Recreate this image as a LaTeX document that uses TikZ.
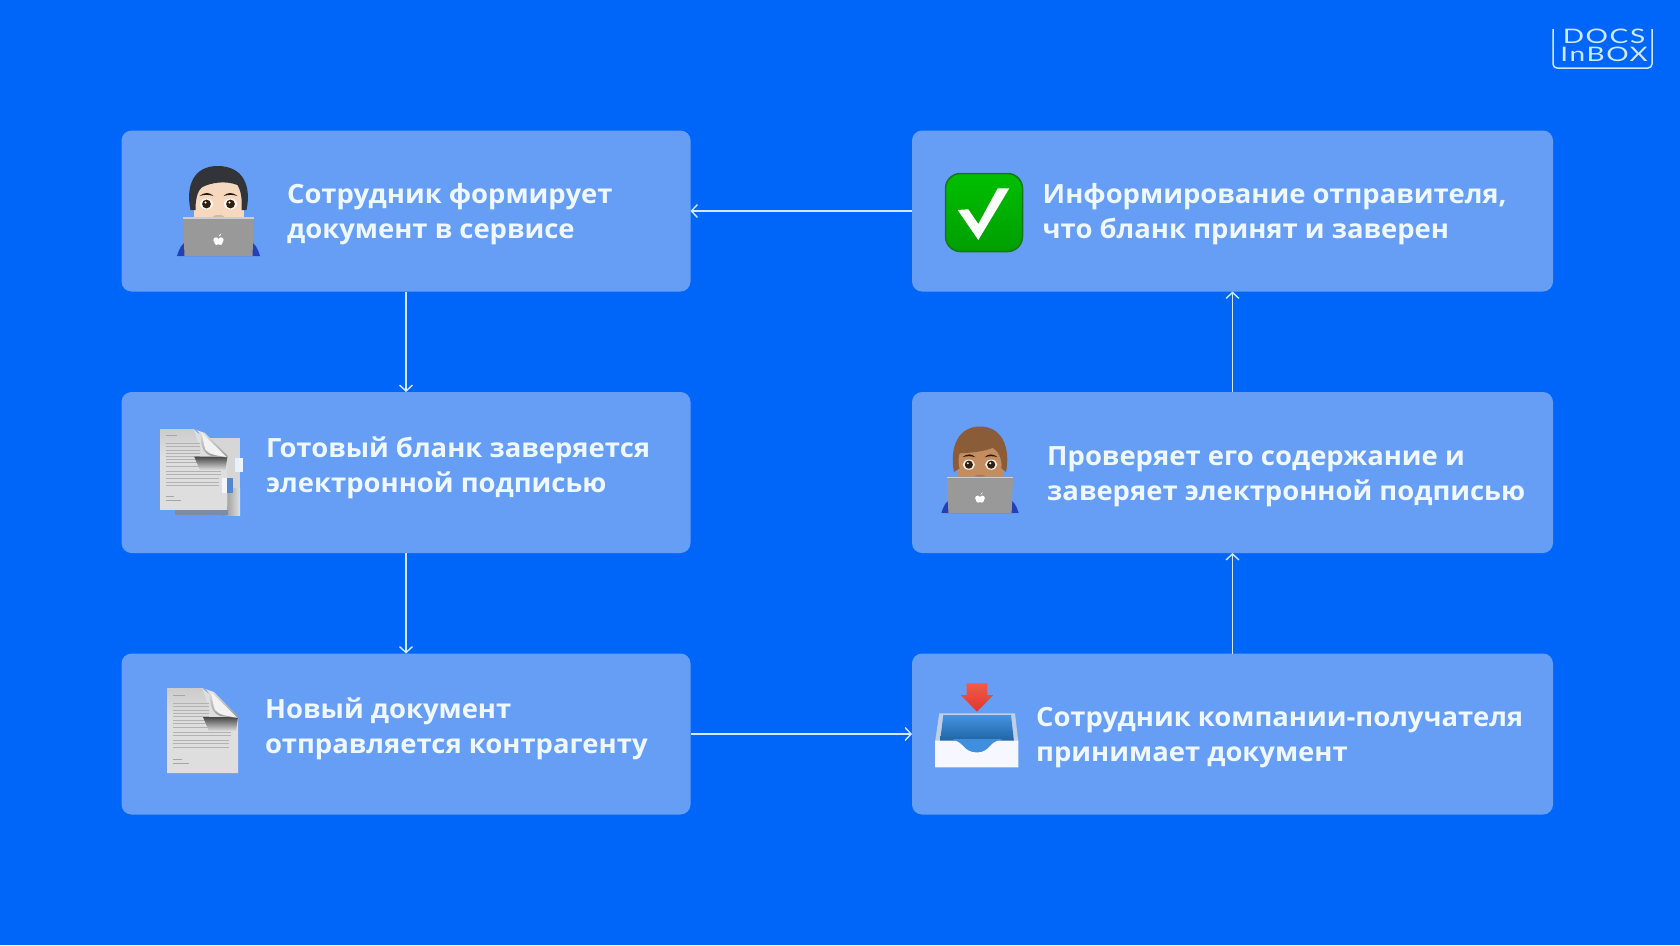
\documentclass[tikz,border=0pt]{standalone}
\usepackage{fontspec}
\usetikzlibrary{arrows.meta}
\setmainfont{Open Sans}
\newfontfamily\boxfont[FakeStretch=1.035]{Open Sans}
\newfontfamily\logofont[FakeStretch=1.4,LetterSpace=8]{Lato}

\definecolor{pagebg}{HTML}{0066FA}
\definecolor{boxbg}{HTML}{669EF6}
\definecolor{boxtext}{HTML}{F0F8FF}
\definecolor{linkline}{HTML}{CFE9FF}
\definecolor{skinA}{HTML}{F6D8BE}
\definecolor{hairA}{HTML}{33343A}
\definecolor{skinB}{HTML}{C48D60}
\definecolor{hairB}{HTML}{8A5C38}
\definecolor{shirt}{HTML}{2440B8}
\definecolor{traytop}{HTML}{4593E2}
\definecolor{traylow}{HTML}{1E629F}
\definecolor{trayrim}{HTML}{BFCFE4}
\definecolor{traytongue}{HTML}{3F8FDE}
\definecolor{redtop}{HTML}{F25A48}
\definecolor{redlow}{HTML}{D93A2E}
\definecolor{docshadow}{HTML}{7C8CA8}

\newcommand{\hairAshape}{(-28,-46) .. controls (-33,-70) and (-25,-90) .. (-1,-90) .. controls (25,-90) and (33,-70) .. (28,-46) -- (23,-46) .. controls (24,-58) and (22,-66) .. (19,-71) .. controls (6,-76) and (-8,-73) .. (-16,-69) .. controls (-22,-65) and (-23,-54) .. (-23,-46) -- cycle}
\newcommand{\hairBshape}{(-28,-44) .. controls (-33,-70) and (-24,-93) .. (0,-93) .. controls (24,-93) and (33,-70) .. (28,-44) -- (23,-48) .. controls (24,-58) and (20,-66) .. (14,-70) .. controls (0,-65) and (-12,-65) .. (-22,-64) .. controls (-24,-58) and (-23,-50) .. (-22,-48) -- cycle}

\tikzset{
	stepbox/.style={fill=boxbg, rounded corners=10pt, minimum height=161pt, outer sep=0pt},
	steptext/.style={anchor=west, align=left, inner sep=0pt, text=boxtext, font=\boxfont\bfseries\fontsize{26.5}{35}\selectfont},
	link/.style={draw=linkline, line width=1.4pt, -{Straight Barb[length=6pt,width=13pt]}},
	logotext/.style={inner sep=0pt, text=linkline, font=\logofont\fontsize{20}{20}\selectfont},
	pics/laptopguy/.style n args={3}{code={
		\fill[#1] (-26,-50) circle (2.5) (26,-50) circle (2.5);
		\fill[#1] (0,-60) ellipse (25 and 26);
		\fill[#1] (-25,-60) rectangle (25,-36);
		\fill[#2] #3;
		\fill[black!80!brown] (-19,-60) .. controls (-14,-64) and (-9,-64) .. (-5,-60) .. controls (-10,-61.5) and (-14,-61.5) .. (-19,-60);
		\fill[black!80!brown] (19,-60) .. controls (14,-64) and (9,-64) .. (5,-60) .. controls (10,-61.5) and (14,-61.5) .. (19,-60);
		\fill[white!85!#1] (-12,-52) ellipse (6.5 and 5.5) (12,-52) ellipse (6.5 and 5.5);
		\fill[black!75!brown] (-12,-52) circle (4.4) (12,-52) circle (4.4);
		\fill[white] (-13,-53.5) circle (1.1) (11,-53.5) circle (1.1);
		\fill[#1!85!black] (0,-39) ellipse (6 and 2);
		\fill[shirt] (-41.5,0) .. controls (-39,-8) and (-37,-13) .. (-30,-15) -- (30,-15) .. controls (37,-13) and (39,-8) .. (41.5,0) -- cycle;
		\fill[black!40] (-35.5,-39) -- (35.5,-39) -- (34,0) -- (-34,0) -- cycle;
		\fill[blue!10!black!20] (-35.5,-39) rectangle (35.5,-37.5);
		\fill[white] (-2.5,-16) circle (2.7) (2.5,-16) circle (2.7) (-1.8,-13.5) circle (2.4) (1.8,-13.5) circle (2.4);
		\fill[white] (0.3,-19.5) .. controls (0.5,-21) and (1.5,-22) .. (2.8,-22.5) .. controls (2.6,-21) and (1.8,-19.8) .. (0.3,-19.5);
	}},
	docpage/.pic={
		\fill[black!13] (0,0) -- (35,0) -- (71,30) -- (71,85) -- (0,85) -- cycle;
		\shade[top color=black!20, bottom color=black!13] (0,0) -- (35,0) -- (45,28) -- (0,28) -- cycle;
		\foreach \y in {15,18.4,...,42} {
			\draw[black!30, line width=.4pt] (6,\y) -- (42,\y);
		}
		\foreach \y in {44,47.5} {
			\draw[black!30, line width=.4pt] (6,\y) -- (64,\y);
		}
		\foreach \y in {52,55.5,...,62} {
			\draw[black!30, line width=.4pt] (6,\y) -- (62,\y);
		}
		\draw[black!35, line width=.4pt] (6,7) -- (18,7);
		\draw[black!35, line width=.4pt] (6,71) -- (15,71);
		\draw[black!35, line width=.4pt] (6,75) -- (22,75);
		\shade[top color=black!72, bottom color=black!13] (36,29) -- (71,29) -- (69,43) -- (42,43) -- cycle;
		\shade[top color=black!8, bottom color=black!40] (35,0) .. controls (41,1) and (43,6) .. (43,12) .. controls (44,20) and (47,26) .. (53,28) -- (71,30) -- (71,28) -- (47,4) -- cycle;
		\fill[black!5] (43,3) -- (70,29.5) .. controls (60,28) and (52,27) .. (48,22) .. controls (45,15) and (46,8) .. (43,3) -- cycle;
	},
}

\begin{document}
\begin{tikzpicture}[x=1pt, y=-1pt]
	\fill[pagebg] (0,0) rectangle (1680,945);
	\useasboundingbox (0,0) rectangle (1680,945);

	\node[stepbox, minimum width=569pt] (form) at (406,211) {};
	\node[stepbox, minimum width=569pt] (sign) at (406,472.5) {};
	\node[stepbox, minimum width=569pt] (send) at (406,734) {};
	\node[stepbox, minimum width=641pt] (inform) at (1232.5,211) {};
	\node[stepbox, minimum width=641pt] (verify) at (1232.5,472.5) {};
	\node[stepbox, minimum width=641pt] (receive) at (1232.5,734) {};

	\node[steptext] (formtext) at (287,214) {Сотрудник формирует\\документ в сервисе};
	\node[steptext] (signtext) at (266,467.5) {Готовый бланк заверяется\\электронной подписью};
	\node[steptext] (sendtext) at (265,729) {Новый документ\\отправляется контрагенту};
	\node[steptext] (informtext) at (1042.5,214) {Информирование отправителя,\\что бланк принят и заверен};
	\node[steptext] (verifytext) at (1047,476.5) {Проверяет его содержание и\\заверяет электронной подписью};
	\node[steptext] (receivetext) at (1036,738) {Сотрудник компании-получателя\\принимает документ};

	\draw[link] (form) -- (sign);
	\draw[link] (sign) -- (send);
	\draw[link] (send) -- (receive);
	\draw[link] (receive) -- (verify);
	\draw[link] (verify) -- (inform);
	\draw[link] (inform) -- (form);

	\pic (guyA) at (218.5,256) {laptopguy={skinA}{hairA}{\hairAshape}};
	\pic[scale=.93] (guyB) at (980,513) {laptopguy={skinB}{hairB}{\hairBshape}};

	\fill[black!16] (175,438) rectangle (240,515);
	\shade[left color=black!45, right color=black!12] (222,488) rectangle (240,515);
	\fill[docshadow] (175,506) rectangle (228,515);
	\pic[scale=.95] (docback) at (160,429) {docpage};
	\fill[white!85!boxbg] (235,458) rectangle (239,472);
	\fill[boxbg!80!black!10] (239,458) rectangle (243,472);
	\fill[white!90!boxbg] (222,478) rectangle (227,493);
	\fill[boxbg!85!black] (227,478) rectangle (233,493);

	\pic (docfront) at (167,688) {docpage};

	\draw[draw=green!40!black!90, line width=1.5pt, top color=green!75!black, bottom color=green!62!black, rounded corners=15pt] (945.5,173.5) rectangle (1022.5,251.5);
	\fill[white] (957.7,210) -- (968.3,209.3) -- (978.3,224) -- (997.7,188.3) -- (1009.3,188.3) -- (978.3,240) -- cycle;

	\fill[trayrim] (939.3,713.3) -- (1015,713.3) -- (1018.3,742) -- (935,742) -- cycle;
	\shade[top color=traytop, bottom color=traylow] (943.3,715) -- (1011,715) -- (1014,742) -- (940,742) -- cycle;
	\fill[traytongue] (953,739) -- (1002,739) -- (985,753) -- (970,753) -- cycle;
	\fill[black!2!blue!3!white] (935,740.5) -- (953,740.5) .. controls (963,740.5) and (963,752.5) .. (977,752.5) .. controls (990,752.5) and (990,740.5) .. (1000,740.5) -- (1018.3,740.5) -- (1018.3,767.3) -- (935,767.3) -- cycle;
	\shade[top color=redtop, bottom color=redlow] (966.7,683.3) -- (987.3,683.3) -- (987.3,695) -- (993.3,695) -- (977,711.7) -- (960.7,695) -- (966.7,695) -- cycle;

	\draw[linkline, line width=1.5pt, rounded corners=4pt] (1553,29) -- (1553,68) -- (1652,68) -- (1652,29);
	\node[logotext] (logotop) at (1604,36.5) {DOCS};
	\node[logotext] (logobottom) at (1604,54.5) {InBOX};
\end{tikzpicture}
\end{document}
